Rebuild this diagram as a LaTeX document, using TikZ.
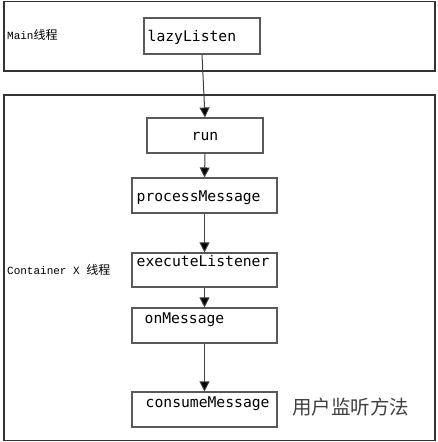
\documentclass[tikz,border=0pt]{standalone}
\usepackage{fontspec}
\usetikzlibrary{arrows.meta}
\newfontfamily\codefont{DejaVu Sans Mono}
\newfontfamily\labfont{Liberation Mono}
\newfontfamily\cjk{Noto Sans CJK SC}
\begin{document}
\begin{tikzpicture}[x=1pt,y=-1pt,
  frame/.style={draw=black!80,line width=1.1pt},
  box/.style={draw=black!65,line width=1.1pt,inner sep=0pt},
  code/.style={anchor=base west,inner sep=0pt,font=\codefont\fontsize{14.7}{16}\selectfont},
  lab/.style={anchor=base west,inner sep=0pt,font=\labfont\fontsize{11}{13}\selectfont},
  conn/.style={draw=black!75,line width=1pt,-{Triangle[width=10pt,length=10pt,fill=black]}}]
\useasboundingbox (0,0) rectangle (437,442);
% frames
\draw[frame] (4,1.5) rectangle (435,71);
\draw[frame] (4,95) rectangle (435,440.5);
\node[lab] (mainlab) at (7,39) {Main{\cjk\fontsize{12}{13}\selectfont 线程}};
\node[lab] (contlab) at (7,274) {Container X {\cjk\fontsize{12}{13}\selectfont 线程}};
% boxes
\node[box,minimum width=116pt,minimum height=36pt] (lazy) at (202,36) {};
\node[box,minimum width=116pt,minimum height=35pt] (run) at (205,135.5) {};
\node[box,minimum width=145pt,minimum height=35pt] (proc) at (204.5,195.5) {};
\node[box,minimum width=145pt,minimum height=34pt] (exec) at (204.5,270) {};
\node[box,minimum width=145pt,minimum height=35pt] (onm) at (204.5,325.5) {};
\node[box,minimum width=145pt,minimum height=35pt] (cons) at (204.5,409.5) {};
% texts
\node[code] (tlazy) at (147.5,41) {lazyListen};
\node[code] (trun) at (191.5,140) {run};
\node[code] (tproc) at (136.5,201) {processMessage};
\node[code] (texec) at (136.5,266) {executeListener};
\node[code] (tonm) at (144.5,323) {onMessage};
\node[code] (tcons) at (145.5,407) {consumeMessage};
\node[anchor=base west,inner sep=0pt,text=black!75,font=\cjk\fontsize{19.5}{21}\selectfont] (user) at (292,414) {用户监听方法};
% connectors
\draw[conn] (lazy.south) -- (run.north);
\draw[conn] (run.south) -- (proc.north);
\draw[conn] (proc.south) -- (exec.north);
\draw[conn] (exec.south) -- (onm.north);
\draw[conn] (onm.south) -- (cons.north);
\end{tikzpicture}
\end{document}
